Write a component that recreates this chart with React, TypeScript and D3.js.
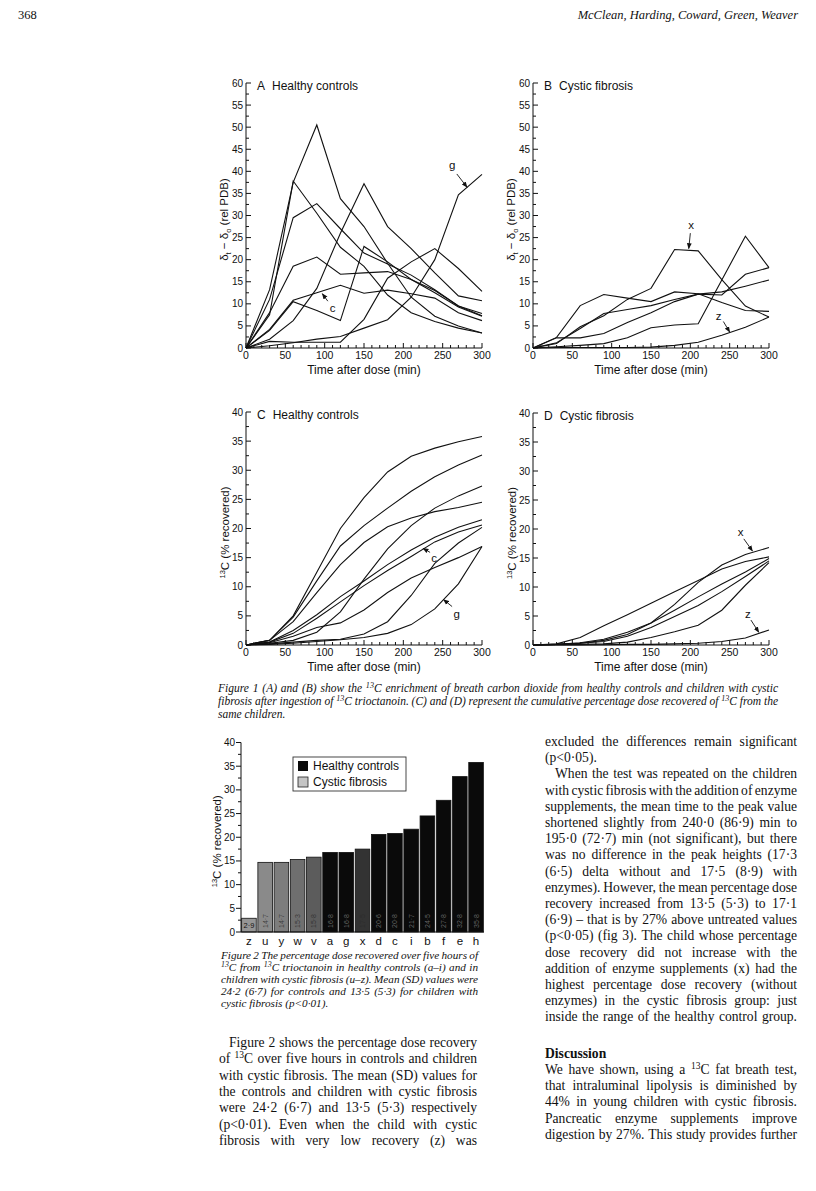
import React from 'react';
import * as d3 from 'd3';

const SANS = "'Liberation Sans', Arial, Helvetica, sans-serif";
const SERIF = "'Liberation Serif', 'Times New Roman', Times, serif";

// ---------- data ----------
const TIMES = [0, 30, 60, 90, 120, 150, 180, 210, 240, 270, 300];

// A: enrichment, healthy controls
const A_s1 = [0, 13.2, 37.5, 50.5, 33.8, 27.5, 19.2, 11.5, 7.2, 5, 3.4];
const A_s2 = [0, 7.5, 37.8, 30.5, 22.8, 18.5, 12, 8, 6, 4.5, 3.4];
const A_s3 = [0, 11, 29.5, 32.7, 27, 21.5, 19, 16.5, 13.2, 9.5, 7.3];
const A_s4 = [0, 8, 18.5, 20.6, 16.7, 17, 17.3, 15.5, 13, 9.5, 7.8];
const A_c = [0, 4.2, 10.8, 12.5, 14.2, 12.4, 13.1, 12.3, 11.3, 8, 6.2];
const A_s6 = [0, 4, 10.5, 8.5, 6.2, 23, 19.5, 15.5, 12.5, 9.3, 7.2];
const A_s7 = [0, 2, 6.2, 13.5, 26, 37.2, 27.5, 22.5, 17, 11.8, 10.7];
const A_s8 = [0, 1.5, 1.3, 1.3, 1.3, 6.5, 15.8, 19.5, 22.5, 18, 12.8];
const A_g = [0, 0.5, 1.2, 2, 2.6, 4.5, 6.4, 11.5, 20, 34.7, 39.3];

// B: enrichment, cystic fibrosis
const B_x = [0, 1, 4.8, 7.3, 11, 13.5, 22.3, 22, 15.5, 9.5, 7];
const B_s2 = [0, 2.4, 9.6, 12.1, 11.3, 10.5, 12.7, 12.3, 10.3, 8.5, 8.3];
const B_s3 = [0, 1.2, 4.4, 7.8, 8.7, 9.6, 11, 12.2, 12.7, 14, 15.4];
const B_s4 = [0, 2.3, 2.3, 3.3, 5.8, 8, 10.5, 12.2, 12, 16.7, 18.2];
const B_s5 = [0, 0.3, 0.6, 1, 2.3, 4.6, 5.2, 5.5, 15.4, 25.3, 18.2];
const B_z = [0, 0.1, 0.1, 0.1, 0.1, 0.2, 0.6, 1.3, 2.9, 4.7, 7];

// C: cumulative recovery, healthy controls
const C_h = [0, 0.8, 5, 12.5, 20, 25.3, 29.7, 32.4, 33.8, 34.9, 35.8];
const C_e = [0, 0.8, 4.8, 11, 17, 20.5, 23.5, 26.4, 28.9, 30.9, 32.6];
const C_f = [0, 0.3, 0.8, 2.2, 5.7, 11.3, 16.5, 20.5, 23.5, 25.6, 27.3];
const C_b = [0, 0.8, 4, 9, 13.8, 17.6, 20.3, 21.8, 22.9, 23.6, 24.5];
const C_d = [0, 0.5, 2.5, 5.2, 8.3, 11, 13.8, 16.3, 18.5, 20.2, 21.5];
const C_c = [0, 0.5, 2, 4.6, 7.4, 10.2, 12.8, 15.2, 17.7, 19.4, 20.6];
const C_a = [0, 0.4, 1.5, 3, 3.8, 6, 9, 11.5, 13.3, 15, 16.9];
const C_i = [0, 0.2, 0.5, 0.8, 1, 1.9, 4, 8.5, 14, 17.5, 20.2];
const C_g = [0, 0.1, 0.3, 0.6, 0.9, 1.3, 2, 3.5, 6.2, 10.5, 16.9];

// D: cumulative recovery, cystic fibrosis
const D_x = [0, 0.1, 0.3, 0.8, 1.8, 3.8, 7, 10.8, 13.8, 15.6, 16.8];
const D_s2 = [0, 0.2, 1.3, 3.3, 5.2, 7.2, 9.2, 11.1, 13.1, 14.4, 15.2];
const D_s3 = [0, 0.1, 0.4, 1, 2.2, 3.8, 6, 8.3, 10.5, 12.6, 14.9];
const D_s4 = [0, 0.1, 0.3, 0.6, 1.5, 3, 4.9, 6.8, 9.2, 11.8, 14.5];
const D_s5 = [0, 0.1, 0.1, 0.2, 0.5, 1.3, 2.3, 3.4, 6, 10.3, 14.2];
const D_z = [0, 0, 0, 0.05, 0.1, 0.1, 0.2, 0.3, 0.6, 1.2, 2.6];

// Figure 2 bars
const BAR_IDS = ['z', 'u', 'y', 'w', 'v', 'a', 'g', 'x', 'd', 'c', 'i', 'b', 'f', 'e', 'h'];
const BAR_VALUES = [2.9, 14.7, 14.7, 15.3, 15.8, 16.8, 16.8, 17.5, 20.6, 20.8, 21.7, 24.5, 27.8, 32.8, 35.8];
const BAR_GROUPS = ['cf', 'cf', 'cf', 'cf', 'cf', 'hc', 'hc', 'cf', 'hc', 'hc', 'hc', 'hc', 'hc', 'hc', 'hc'];
const CF_SHADES: Record<string, string> = { z: '#959595', u: '#8a8a8a', y: '#7d7d7d', w: '#6f6f6f', v: '#5c5c5c', x: '#333333' };

// ---------- text ----------
const FIG1_CAPTION = [
  'Figure 1  (A) and (B) show the ^{13}C enrichment of breath carbon dioxide from healthy controls and children with cystic',
  'fibrosis after ingestion of ^{13}C trioctanoin. (C) and (D) represent the cumulative percentage dose recovered of ^{13}C from the',
  'same children.',
];
const FIG2_CAPTION = [
  'Figure 2  The percentage dose recovered over five hours of',
  '^{13}C from ^{13}C trioctanoin in healthy controls (a–i) and in',
  'children with cystic fibrosis (u–z). Mean (SD) values were',
  '24·2 (6·7) for controls and 13·5 (5·3) for children with',
  'cystic fibrosis (p<0·01).',
];
const LEFT_PARA = [
  'Figure 2 shows the percentage dose recovery',
  'of ^{13}C over five hours in controls and children',
  'with cystic fibrosis. The mean (SD) values for',
  'the controls and children with cystic fibrosis',
  'were 24·2 (6·7) and 13·5 (5·3) respectively',
  '(p<0·01). Even when the child with cystic',
  'fibrosis with very low recovery (z) was',
];
const RIGHT_PARA1 = [
  'excluded the differences remain significant',
  '(p<0·05).',
];
const RIGHT_PARA2 = [
  'When the test was repeated on the children',
  'with cystic fibrosis with the addition of enzyme',
  'supplements, the mean time to the peak value',
  'shortened slightly from 240·0 (86·9) min to',
  '195·0 (72·7) min (not significant), but there',
  'was no difference in the peak heights (17·3',
  '(6·5) delta without and 17·5 (8·9) with',
  'enzymes). However, the mean percentage dose',
  'recovery increased from 13·5 (5·3) to 17·1',
  '(6·9) – that is by 27% above untreated values',
  '(p<0·05) (fig 3). The child whose percentage',
  'dose recovery did not increase with the',
  'addition of enzyme supplements (x) had the',
  'highest percentage dose recovery (without',
  'enzymes) in the cystic fibrosis group: just',
  'inside the range of the healthy control group.',
];
const DISCUSSION = [
  'We have shown, using a ^{13}C fat breath test,',
  'that intraluminal lipolysis is diminished by',
  '44% in young children with cystic fibrosis.',
  'Pancreatic enzyme supplements improve',
  'digestion by 27%. This study provides further',
];

// ---------- text helpers ----------
let _ctx: CanvasRenderingContext2D | null = null;
function measure(s: string, font: string): number {
  if (!_ctx) _ctx = document.createElement('canvas').getContext('2d');
  if (!_ctx) return s.length * 6;
  _ctx.font = font;
  return _ctx.measureText(s).width;
}
type Seg = { t: string; sup: boolean };
function parseWord(w: string): Seg[] {
  const segs: Seg[] = [];
  const re = /\^\{([^}]*)\}/g;
  let last = 0;
  let m: RegExpExecArray | null;
  while ((m = re.exec(w))) {
    if (m.index > last) segs.push({ t: w.slice(last, m.index), sup: false });
    segs.push({ t: m[1], sup: true });
    last = re.lastIndex;
  }
  if (last < w.length) segs.push({ t: w.slice(last), sup: false });
  return segs;
}

function TextLine(props: {
  text: string; x0: number; x1: number; y: number; size: number;
  italic?: boolean; bold?: boolean; justify?: boolean; indent?: number;
}) {
  const { text, x0, x1, y, size, italic, bold, justify, indent = 0 } = props;
  const words = text.split(' ').filter((w) => w.length).map(parseWord);
  const font = (sz: number) => `${italic ? 'italic ' : ''}${bold ? 'bold ' : ''}${sz}px ${SERIF}`;
  const segW = (s: Seg) => measure(s.t, font(s.sup ? size * 0.7 : size));
  const wW = words.map((ws) => ws.reduce((a, s) => a + segW(s), 0));
  const total = wW.reduce((a, b) => a + b, 0);
  const space = measure(' ', font(size));
  const avail = x1 - x0 - indent;
  const minGap = size * 0.18;
  let gap = justify && words.length > 1 ? (avail - total) / (words.length - 1) : space;
  let sx = 1;
  if (justify && words.length > 1 && gap < minGap) {
    gap = minGap;
    sx = avail / (total + minGap * (words.length - 1));
  }
  let cx = x0 + indent;
  const els: React.ReactNode[] = [];
  words.forEach((ws, i) => {
    let px = cx;
    ws.forEach((s, k) => {
      els.push(
        <text key={`${i}-${k}`} x={px} y={s.sup ? y - size * 0.38 : y}
          fontSize={s.sup ? size * 0.7 : size} fontFamily={SERIF}
          fontStyle={italic ? 'italic' : 'normal'} fontWeight={bold ? 'bold' : 'normal'} fill="#111">
          {s.t}
        </text>
      );
      px += segW(s);
    });
    cx += wW[i] + gap;
  });
  const ox = x0 + indent;
  return <g transform={sx !== 1 ? `translate(${ox},0) scale(${sx},1) translate(${-ox},0)` : undefined}>{els}</g>;
}

function Paragraph(props: {
  lines: string[]; x0: number; x1: number; y: number; lh: number; size: number;
  italic?: boolean; indentFirst?: number; lastJustified?: boolean;
}) {
  const { lines, x0, x1, y, lh, size, italic, indentFirst = 0, lastJustified } = props;
  return (
    <g>
      {lines.map((l, i) => (
        <TextLine key={i} text={l} x0={x0} x1={x1} y={y + i * lh} size={size} italic={italic}
          justify={i < lines.length - 1 || !!lastJustified} indent={i === 0 ? indentFirst : 0} />
      ))}
    </g>
  );
}

// ---------- line panels ----------
type Ann = { label: string; lx: number; ly: number; fx: number; fy: number; tx: number; ty: number };

function LinePanel(props: {
  x0: number; x1: number; yb: number; yt: number; yMax: number;
  series: number[][]; letter: string; title: string; yLabel: 'delta' | 'c13'; anns: Ann[];
}) {
  const { x0, x1, yb, yt, yMax, series, letter, title, yLabel, anns } = props;
  const xs = d3.scaleLinear().domain([0, 300]).range([x0, x1]);
  const ys = d3.scaleLinear().domain([0, yMax]).range([yb, yt]);
  const line = d3.line<number>().x((_, i) => xs(TIMES[i])).y((d) => ys(d));
  const yMajor = d3.range(0, yMax + 0.1, 5);
  const yMinor = d3.range(2.5, yMax, 5);
  const xMajor = d3.range(0, 301, 50);
  const xMinor = d3.range(10, 300, 10).filter((v) => v % 50 !== 0);
  const labX = x0 - (yLabel === 'delta' ? 18 : 17);
  const labY = (yb + yt) / 2 + 4;
  return (
    <g fontFamily={SANS} fill="#111">
      {series.map((s, i) => (
        <path key={i} d={line(s) || ''} fill="none" stroke="#111" strokeWidth={1.1} strokeLinejoin="miter" />
      ))}
      <line x1={x0} x2={x0} y1={yb} y2={yt} stroke="#111" strokeWidth={1} />
      <line x1={x0} x2={x1} y1={yb} y2={yb} stroke="#111" strokeWidth={1} />
      {yMajor.map((v) => (
        <g key={'ym' + v}>
          <line x1={x0} x2={x0 + 5} y1={ys(v)} y2={ys(v)} stroke="#111" />
          <text x={x0 - 3} y={ys(v)} dy="0.35em" fontSize={10} textAnchor="end">{v}</text>
        </g>
      ))}
      {yMinor.map((v) => (
        <line key={'yn' + v} x1={x0} x2={x0 + 3} y1={ys(v)} y2={ys(v)} stroke="#111" />
      ))}
      {xMajor.map((v) => (
        <g key={'xm' + v}>
          <line x1={xs(v)} x2={xs(v)} y1={yb} y2={yb - 5} stroke="#111" />
          <text x={xs(v)} y={yb + 11} fontSize={10.5} textAnchor="middle">{v}</text>
        </g>
      ))}
      {xMinor.map((v) => (
        <line key={'xn' + v} x1={xs(v)} x2={xs(v)} y1={yb} y2={yb - 3} stroke="#111" />
      ))}
      <text x={x0 + 11} y={yt + 7} fontSize={12}>
        <tspan>{letter}</tspan><tspan dx={7}>{title}</tspan>
      </text>
      <text x={(x0 + x1) / 2} y={yb + 26} fontSize={12} textAnchor="middle">Time after dose (min)</text>
      <g transform={`translate(${labX},${labY}) rotate(-90)`}>
        {yLabel === 'delta' ? (
          <text x={0} y={0} fontSize={11.5} textAnchor="middle">
            <tspan>δ</tspan><tspan fontSize={7.5} dy={2.5}>t</tspan><tspan dy={-2.5}> − δ</tspan>
            <tspan fontSize={7.5} dy={2.5}>o</tspan><tspan dy={-2.5}> (rel PDB)</tspan>
          </text>
        ) : (
          <text x={0} y={0} fontSize={11.5} textAnchor="middle">
            <tspan fontSize={7.5} dy={-4}>13</tspan><tspan dy={4}>C (% recovered)</tspan>
          </text>
        )}
      </g>
      {anns.map((a, i) => (
        <g key={'an' + i}>
          <text x={xs(a.lx)} y={ys(a.ly)} dy="0.35em" fontSize={11.5} textAnchor="middle">{a.label}</text>
          <line x1={xs(a.fx)} y1={ys(a.fy)} x2={xs(a.tx)} y2={ys(a.ty)} stroke="#111" strokeWidth={0.9}
            markerEnd="url(#arrowHead)" />
        </g>
      ))}
    </g>
  );
}

// ---------- bar chart ----------
function BarChart() {
  const x0 = 241;
  const yb = 932;
  const yt = 742.5;
  const xs = d3.scaleBand<string>().domain(BAR_IDS).range([x0, 484]).paddingInner(0.1).paddingOuter(0.04);
  const ys = d3.scaleLinear().domain([0, 40]).range([yb, yt]);
  const fmt = (v: number) => d3.format('.1f')(v).replace('.', '·');
  return (
    <g fontFamily={SANS} fill="#111">
      {BAR_IDS.map((id, i) => {
        const v = BAR_VALUES[i];
        const isCF = BAR_GROUPS[i] === 'cf';
        const fill = isCF ? CF_SHADES[id] : '#0a0a0a';
        const bx = xs(id) || 0;
        const bw = xs.bandwidth();
        return (
          <g key={id}>
            <rect x={bx} y={ys(v)} width={bw} height={yb - ys(v)} fill={fill} stroke="#111" strokeWidth={0.8} />
            {id === 'z' ? (
              <text x={bx + bw / 2} y={ys(v) + (yb - ys(v)) / 2} dy="0.35em" fontSize={7.5} textAnchor="middle" fill="#111">{fmt(v)}</text>
            ) : (
              <text transform={`translate(${bx + bw / 2},${yb - 4}) rotate(-90)`} dy="0.35em" fontSize={7}
                fill={isCF ? '#2a2a2a' : '#7a7a7a'} fillOpacity={0.8}>{fmt(v)}</text>
            )}
            <text x={bx + bw / 2} y={yb + 13} fontSize={11.5} textAnchor="middle">{id}</text>
          </g>
        );
      })}
      <line x1={x0} x2={x0} y1={yb} y2={yt} stroke="#111" />
      <line x1={x0} x2={484} y1={yb} y2={yb} stroke="#111" />
      {d3.range(0, 40.1, 5).map((v) => (
        <g key={'t' + v}>
          <line x1={x0 - 5} x2={x0} y1={ys(v)} y2={ys(v)} stroke="#111" />
          <text x={x0 - 6} y={ys(v)} dy="0.35em" fontSize={10} textAnchor="end">{v}</text>
        </g>
      ))}
      {d3.range(2.5, 40, 5).map((v) => (
        <line key={'m' + v} x1={x0 - 3} x2={x0} y1={ys(v)} y2={ys(v)} stroke="#111" />
      ))}
      <g transform={`translate(${x0 - 20},${(yb + yt) / 2 + 4}) rotate(-90)`}>
        <text x={0} y={0} fontSize={11.5} textAnchor="middle">
          <tspan fontSize={7.5} dy={-4}>13</tspan><tspan dy={4}>C (% recovered)</tspan>
        </text>
      </g>
      <rect x={293} y={757} width={113} height={34} fill="#fff" stroke="#333" strokeWidth={0.9} />
      <rect x={298} y={761} width={10} height={10} fill="#0a0a0a" />
      <text x={313} y={770} fontSize={12}>Healthy controls</text>
      <rect x={298} y={777} width={10} height={10} fill="#c4c4c4" stroke="#222" strokeWidth={0.8} />
      <text x={313} y={786} fontSize={12}>Cystic fibrosis</text>
    </g>
  );
}

export default function App() {
  return (
    <svg width={816} height={1191} viewBox="0 0 816 1191"
      style={{ position: 'absolute', left: 0, top: 0, display: 'block', background: '#fff' }}>
      <defs>
        <marker id="arrowHead" viewBox="0 0 10 10" refX={9} refY={5} markerWidth={6} markerHeight={6}
          orient="auto" markerUnits="userSpaceOnUse">
          <path d="M0,1 L10,5 L0,9 z" fill="#111" />
        </marker>
      </defs>
      <rect x={0} y={0} width={816} height={1191} fill="#fff" />

      <text x={18} y={19} fontSize={12.5} fontFamily={SERIF} fill="#111">368</text>
      <text x={798} y={19} fontSize={12.5} fontFamily={SERIF} fontStyle="italic" textAnchor="end" fill="#111">
        McClean, Harding, Coward, Green, Weaver
      </text>

      <LinePanel x0={246} x1={482} yb={348} yt={83} yMax={60}
        series={[A_s1, A_s2, A_s3, A_s4, A_c, A_s6, A_s7, A_s8, A_g]}
        letter="A" title="Healthy controls" yLabel="delta"
        anns={[
          { label: 'g', lx: 262, ly: 41.5, fx: 268, fy: 39.4, tx: 281, ty: 36.4 },
          { label: 'c', lx: 110, ly: 9, fx: 104, fy: 10.6, tx: 97, ty: 12.3 },
        ]} />
      <LinePanel x0={533} x1={769} yb={348} yt={83} yMax={60}
        series={[B_x, B_s2, B_s3, B_s4, B_s5, B_z]}
        letter="B" title="Cystic fibrosis" yLabel="delta"
        anns={[
          { label: 'x', lx: 201, ly: 27.8, fx: 200, fy: 26, tx: 198, ty: 22.5 },
          { label: 'z', lx: 236, ly: 7.3, fx: 242, fy: 6, tx: 250, ty: 3.6 },
        ]} />
      <LinePanel x0={246} x1={482} yb={645} yt={412} yMax={40}
        series={[C_h, C_e, C_f, C_b, C_d, C_c, C_a, C_i, C_g]}
        letter="C" title="Healthy controls" yLabel="c13"
        anns={[
          { label: 'c', lx: 239, ly: 15, fx: 234, fy: 15.9, tx: 225, ty: 16.6 },
          { label: 'g', lx: 268, ly: 5.3, fx: 262, fy: 6.6, tx: 251, ty: 7.8 },
        ]} />
      <LinePanel x0={533} x1={769} yb={645} yt={413} yMax={40}
        series={[D_x, D_s2, D_s3, D_s4, D_s5, D_z]}
        letter="D" title="Cystic fibrosis" yLabel="c13"
        anns={[
          { label: 'x', lx: 264, ly: 19.5, fx: 268, fy: 18.3, tx: 279, ty: 16.2 },
          { label: 'z', lx: 273, ly: 5.4, fx: 277, fy: 4.3, tx: 287, ty: 2.2 },
        ]} />

      <Paragraph lines={FIG1_CAPTION} x0={218} x1={778} y={692} lh={13} size={11.5} italic />

      <BarChart />

      <Paragraph lines={FIG2_CAPTION} x0={221} x1={478} y={959} lh={12} size={11.2} italic />
      <Paragraph lines={LEFT_PARA} x0={219} x1={477} y={1047} lh={16.3} size={13.6} indentFirst={10} lastJustified />

      <Paragraph lines={RIGHT_PARA1} x0={545} x1={797} y={746} lh={16.2} size={13.6} />
      <Paragraph lines={RIGHT_PARA2} x0={545} x1={797} y={746 + 2 * 16.2} lh={16.2} size={13.6} indentFirst={10} lastJustified />

      <text x={545} y={1058} fontSize={13.6} fontWeight="bold" fontFamily={SERIF} fill="#111">Discussion</text>
      <Paragraph lines={DISCUSSION} x0={545} x1={797} y={1074} lh={16.2} size={13.6} lastJustified />
    </svg>
  );
}
